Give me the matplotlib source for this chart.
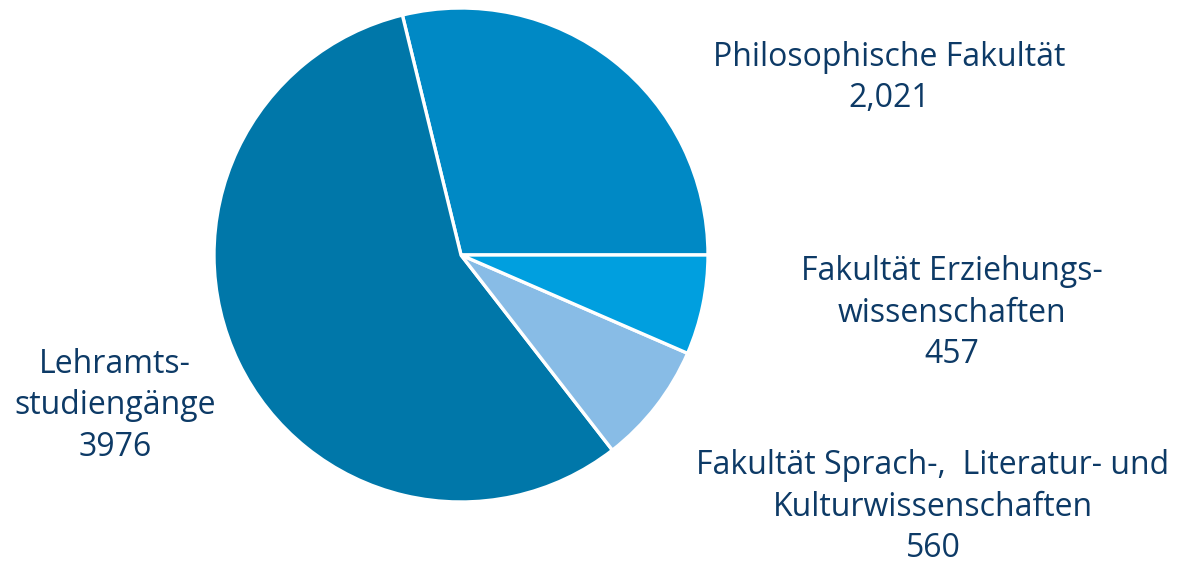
import matplotlib.pyplot as plt

# Studierende nach Fakultät
labels = ['Philosophische Fakultät', 'Lehramts-\nstudiengänge',
          'Fakultät Sprach-,  Literatur- und\nKulturwissenschaften',
          'Fakultät Erziehungs-\nwissenschaften']
values = [2021, 3976, 560, 457]
value_labels = ['2,021', '3976', '560', '457']
colors = ['#0089c5', '#0077a9', '#88bce6', '#009fdf']

plt.rcParams['font.family'] = ['Open Sans', 'DejaVu Sans']

fig = plt.figure(figsize=(11.82, 5.65), dpi=100)
ax = fig.add_axes([0, 0, 1, 1])

ax.pie(values, colors=colors, startangle=0, counterclock=True, radius=1,
       wedgeprops=dict(edgecolor='white', linewidth=2.4))

r_px = 247
cx, cy = 461, 255
ax.set_xlim(-cx / r_px, (1182 - cx) / r_px)
ax.set_ylim(-(565 - cy) / r_px, cy / r_px)
ax.set_aspect('equal')
ax.axis('off')

# label positions in pixels (centre of text block)
label_pos = [(889, 78), (115, 406), (933, 507), (952, 313)]
text_color = '#0d3a66'
for lab, val, (px, py) in zip(labels, value_labels, label_pos):
    ax.text((px - cx) / r_px, (cy - py) / r_px, lab + '\n' + val,
            ha='center', va='center', fontsize=23, color=text_color,
            linespacing=1.34)

plt.savefig('out.png', dpi=100)
